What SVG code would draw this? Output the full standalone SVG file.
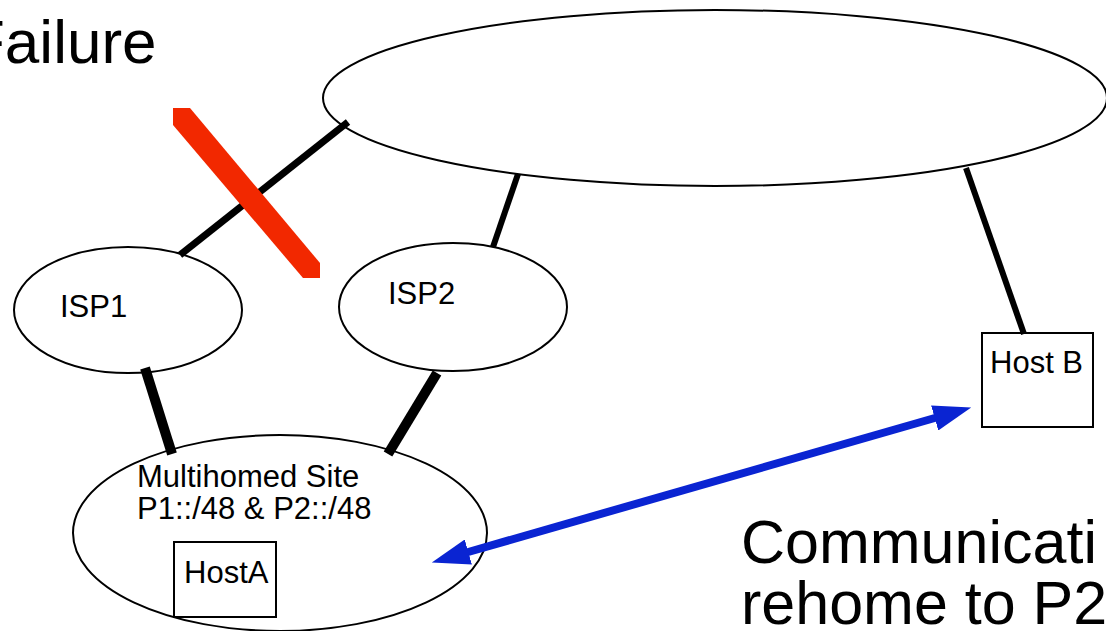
<svg xmlns="http://www.w3.org/2000/svg" width="1106" height="631" viewBox="0 0 1106 631">
<style>
.shape{fill:#fff;stroke:#000;stroke-width:2}
.t{font-family:"Liberation Sans",Arial,Helvetica,sans-serif;fill:#000}
.s{font-size:31px}
.big{font-size:61px}
.link{stroke:#000;fill:none;stroke-linecap:butt}
</style>
<defs>
<marker id="ah" viewBox="0 0 10 10" refX="0.5" refY="5" markerUnits="userSpaceOnUse" markerWidth="38" markerHeight="26" orient="auto-start-reverse" preserveAspectRatio="none">
<path d="M0,0 L10,5 L0,10 z" fill="#0a24d2"/>
</marker>
</defs>
<rect width="1106" height="631" fill="#fff"/>
<text class="t" x="-33" y="63" style="font-size:62px">Failure</text>
<g id="internet"><ellipse class="shape" cx="715" cy="98" rx="392" ry="88"/></g>
<g id="isp1"><ellipse class="shape" cx="128" cy="310" rx="114" ry="63"/><text class="t s" x="60" y="317">ISP1</text></g>
<g id="isp2"><ellipse class="shape" cx="453" cy="307" rx="114" ry="64"/><text class="t s" x="388" y="304">ISP2</text></g>
<g id="site"><ellipse class="shape" cx="280" cy="533" rx="207" ry="98"/><text class="t s" x="137" y="487">Multihomed Site</text><text class="t s" x="137" y="519">P1::/48 &amp; P2::/48</text></g>
<g id="hostA"><rect class="shape" x="174" y="542" width="102" height="75"/><text class="t s" x="184" y="583">HostA</text></g>
<g id="hostB"><rect class="shape" x="982" y="333" width="111" height="94"/><text class="t s" x="990" y="373">Host B</text></g>
<g id="connectors">
<line class="link" x1="348" y1="122" x2="180" y2="255" stroke-width="7"/>
<line class="link" x1="518" y1="174" x2="493" y2="247" stroke-width="6"/>
<line class="link" x1="966" y1="168" x2="1024" y2="334" stroke-width="6"/>
<line class="link" x1="145" y1="368" x2="172" y2="454" stroke-width="10"/>
<line class="link" x1="437" y1="373" x2="388" y2="454" stroke-width="10"/>
<line x1="466.5" y1="552.5" x2="936.5" y2="417.5" stroke="#0a24d2" stroke-width="8" marker-start="url(#ah)" marker-end="url(#ah)"/>
</g>
<polygon id="failure-mark" points="173,108 190,108 320,263 320,278 303,278 173,125" fill="#f22800"/>
<text class="t big" x="741" y="563">Communicati</text>
<text class="t big" x="741" y="624">rehome to P2</text>
</svg>
